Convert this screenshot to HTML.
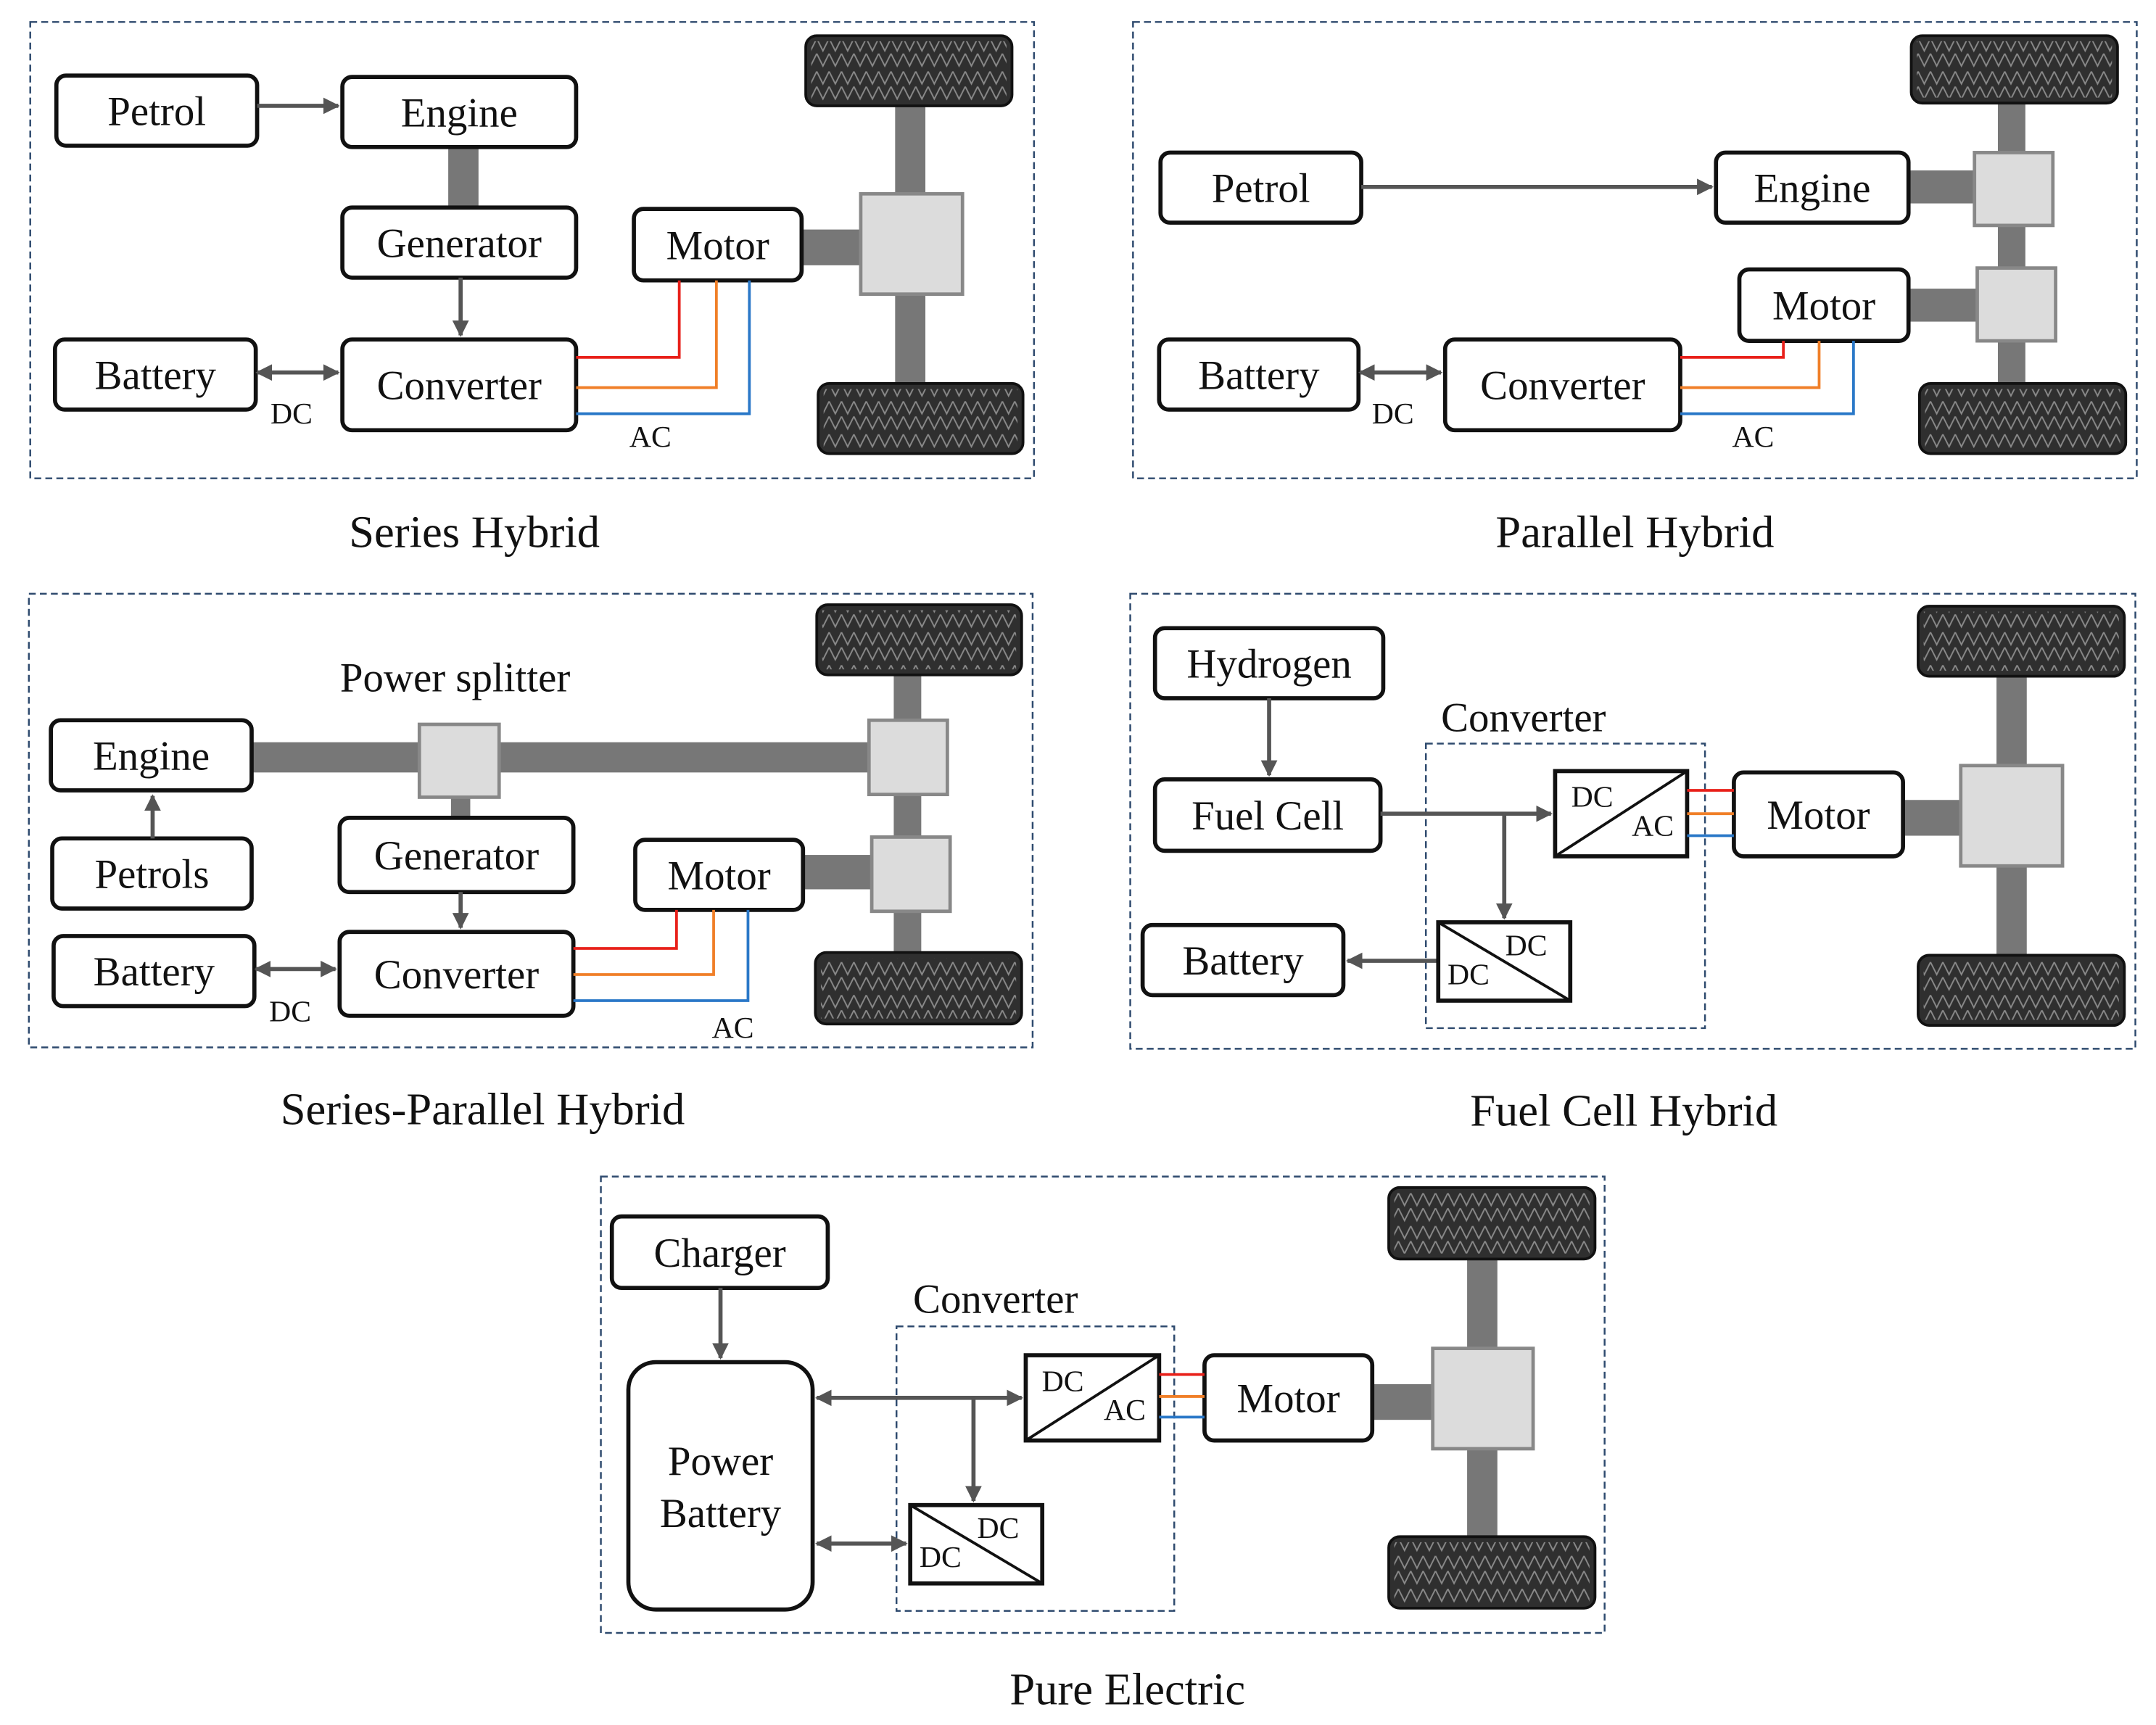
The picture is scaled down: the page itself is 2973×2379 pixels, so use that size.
<!DOCTYPE html>
<html><head><meta charset="utf-8"><style>
html,body{margin:0;padding:0;background:#fff}
svg{display:block}
text{font-family:"Liberation Serif",serif;fill:#111}
</style></head><body>
<svg id="s" width="2973" height="2379" viewBox="0 0 1568 1255" preserveAspectRatio="none" xmlns="http://www.w3.org/2000/svg">
<defs>
<marker id="a" viewBox="0 0 10 10" refX="9" refY="5" markerWidth="4" markerHeight="4" orient="auto-start-reverse"><path d="M0,0L10,5L0,10z" fill="#555"/></marker>
<pattern id="z" width="9" height="24" patternUnits="userSpaceOnUse" x="0" y="2"><path d="M0,2L4.5,11L9,2M0,13L4.5,22L9,13" fill="none" stroke="#8a8a8a" stroke-width="1"/></pattern>
</defs>
<g id="g"></g>
</svg>
<script>
var o='';
var BF=30;
function dash(x1,y1,x2,y2){o+=`<rect x="${x1}" y="${y1}" width="${x2-x1}" height="${y2-y1}" fill="none" stroke="#2e4a6e" stroke-width="1.3" stroke-dasharray="5,3"/>`;}
function box(x1,y1,x2,y2,t,fs,r){fs=fs||BF;r=r||7;o+=`<rect x="${x1}" y="${y1}" width="${x2-x1}" height="${y2-y1}" rx="${r}" fill="#fff" stroke="#111" stroke-width="3"/>`;if(t)o+=`<text x="${(x1+x2)/2}" y="${(y1+y2)/2+fs*0.35}" font-size="${fs}" text-anchor="middle">${t}</text>`;}
function tx(x,y,t,fs){o+=`<text x="${x}" y="${y}" font-size="${fs}" text-anchor="middle">${t}</text>`;}
function sh(x1,y1,x2,y2){o+=`<rect x="${x1}" y="${y1}" width="${x2-x1}" height="${y2-y1}" fill="#777"/>`;}
function gear(x1,y1,x2,y2){o+=`<rect x="${x1}" y="${y1}" width="${x2-x1}" height="${y2-y1}" fill="#dcdcdc" stroke="#888" stroke-width="2.5"/>`;}
function tire(x1,y1,x2,y2){o+=`<rect x="${x1}" y="${y1}" width="${x2-x1}" height="${y2-y1}" rx="8" fill="#2f2f2f" stroke="#111" stroke-width="2"/><rect x="${x1+4}" y="${y1+4}" width="${x2-x1-8}" height="${y2-y1-8}" fill="url(#z)"/>`;}
function ar(x1,y1,x2,y2,both){o+=`<line x1="${x1}" y1="${y1}" x2="${x2}" y2="${y2}" stroke="#555" stroke-width="3" marker-end="url(#a)" ${both?'marker-start="url(#a)"':''}/>`;}
function ln(pts,c,w){o+=`<polyline points="${pts}" fill="none" stroke="${c}" stroke-width="${w||2}"/>`;}
function conv(x1,y1,x2,y2,dcac){o+=`<rect x="${x1}" y="${y1}" width="${x2-x1}" height="${y2-y1}" fill="#fff" stroke="#111" stroke-width="3"/>`;
 if(dcac){ln(`${x1},${y2} ${x2},${y1}`,'#111',2);tx(x1+27,y1+26,'DC',22);tx(x2-25,y2-15,'AC',22);}
 else{ln(`${x1},${y1} ${x2},${y2}`,'#111',2);tx(x2-32,y1+24,'DC',22);tx(x1+22,y2-12,'DC',22);}}
// Series
dash(22,16,752,348);
sh(651,77,673,141);sh(651,214,673,279);sh(583,167,626,193);sh(326,107,348,151);
tire(586,26,736,77);tire(595,279,744,330);gear(626,141,700,214);
box(41,55,187,106,'Petrol');box(249,56,419,107,'Engine');box(249,151,419,202,'Generator');box(461,152,583,204,'Motor');box(40,247,186,298,'Battery');box(249,247,419,313,'Converter');
ar(187,77,246,77);ar(335,202,335,244);ar(187,271,246,271,1);tx(212,308,'DC',22);
ln('419,260 494,260 494,204','#e8201a');ln('419,282 521,282 521,204','#f07f28');ln('419,301 545,301 545,204','#2a78c8');tx(473,325,'AC',22);
tx(345,398,'Series Hybrid',33);
// Parallel
dash(824,16,1554,348);
sh(1453,75,1473,111);sh(1453,164,1473,195);sh(1453,248,1473,279);sh(1388,124,1436,148);sh(1388,210,1438,234);
tire(1390,26,1540,75);tire(1396,279,1546,330);gear(1436,111,1493,164);gear(1438,195,1495,248);
box(844,111,990,162,'Petrol');box(1248,111,1388,162,'Engine');box(1265,196,1388,248,'Motor');box(843,247,988,298,'Battery');box(1051,247,1222,313,'Converter');
ar(990,136,1245,136);ar(989,271,1048,271,1);tx(1013,308,'DC',22);
ln('1222,260 1297,260 1297,248','#e8201a');ln('1222,282 1323,282 1323,248','#f07f28');ln('1222,301 1348,301 1348,248','#2a78c8');tx(1275,325,'AC',22);
tx(1189,398,'Parallel Hybrid',33);
// Series-parallel
dash(21,432,751,762);
sh(650,491,670,524);sh(650,578,670,609);sh(650,663,670,693);sh(183,540,632,562);sh(584,622,634,647);sh(328,580,342,595);
tire(594,440,743,491);tire(593,693,743,745);gear(305,527,363,580);gear(632,524,689,578);gear(634,609,691,663);
tx(331,503,'Power splitter',30);
box(37,524,183,575,'Engine');box(38,610,183,661,'Petrols');box(247,595,417,649,'Generator');box(462,611,584,662,'Motor');box(39,681,185,732,'Battery');box(247,678,417,739,'Converter');
ar(111,610,111,579);ar(335,649,335,675);ar(186,705,244,705,1);tx(211,743,'DC',22);
ln('417,690 492,690 492,662','#e8201a');ln('417,709 519,709 519,662','#f07f28');ln('417,728 544,728 544,662','#2a78c8');tx(533,755,'AC',22);
tx(351,818,'Series-Parallel Hybrid',33);
// Fuel cell
dash(822,432,1553,763);
sh(1452,492,1474,557);sh(1452,630,1474,695);sh(1384,582,1426,608);
tire(1395,441,1545,492);tire(1395,695,1545,746);gear(1426,557,1500,630);
dash(1037,541,1240,748);tx(1108,532,'Converter',30);
box(840,457,1006,508,'Hydrogen');box(840,567,1004,619,'Fuel Cell');box(831,673,977,724,'Battery');box(1261,562,1384,623,'Motor');
ar(923,508,923,564);ar(1004,592,1128,592);ar(1094,592,1094,668);ar(1046,699,980,699);
conv(1131,561,1227,623,1);conv(1046,671,1142,728,0);
ln('1227,575 1261,575','#e8201a');ln('1227,592 1261,592','#f07f28');ln('1227,608 1261,608','#2a78c8');
tx(1181,819,'Fuel Cell Hybrid',33);
// Pure electric
dash(437,856,1167,1188);
sh(1067,916,1089,981);sh(1067,1054,1089,1118);sh(998,1007,1042,1033);
tire(1010,864,1160,916);tire(1010,1118,1160,1170);gear(1042,981,1115,1054);
dash(652,965,854,1172);tx(724,955,'Converter',30);
box(445,885,602,937,'Charger');box(457,991,591,1171,'',BF,20);tx(524,1073,'Power',30);tx(524,1111,'Battery',30);box(876,986,998,1048,'Motor');
ar(524,937,524,988);ar(594,1017,743,1017,1);ar(708,1017,708,1092);ar(594,1123,659,1123,1);
conv(746,986,843,1048,1);conv(662,1095,758,1152,0);
ln('843,1000 876,1000','#e8201a');ln('843,1016 876,1016','#f07f28');ln('843,1031 876,1031','#2a78c8');
tx(820,1240,'Pure Electric',33);
document.getElementById('g').innerHTML=o;
</script>
</body></html>
